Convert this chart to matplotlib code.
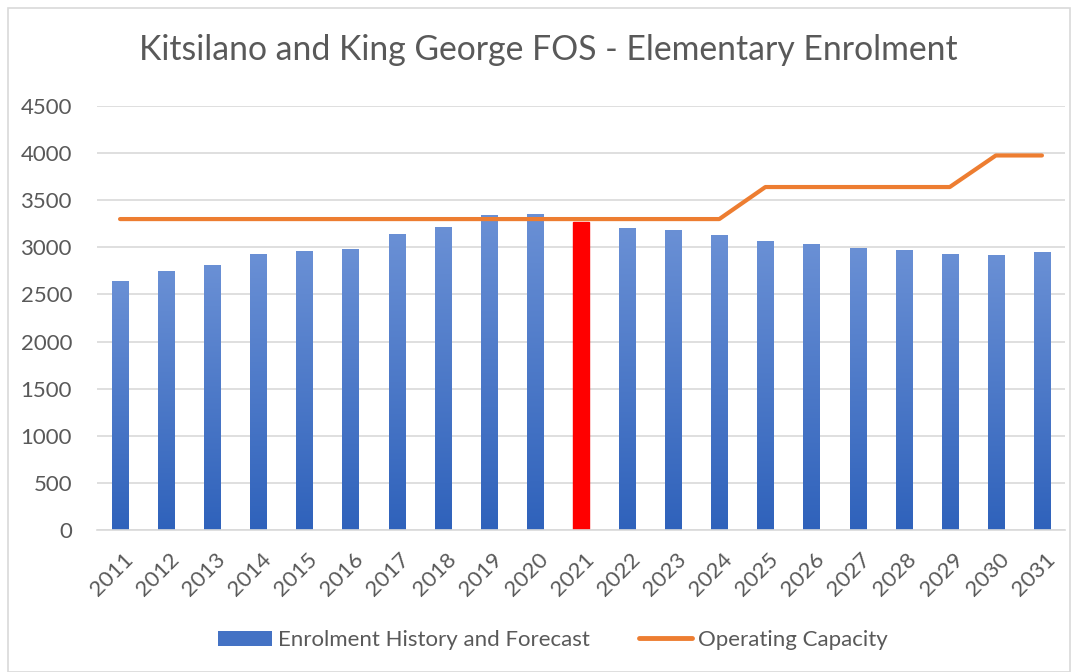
import matplotlib
matplotlib.use("Agg")
import matplotlib.pyplot as plt
import numpy as np
from matplotlib.patches import Patch, Rectangle
from matplotlib.lines import Line2D
from matplotlib.colors import LinearSegmentedColormap
import matplotlib.transforms as mtransforms

plt.rcParams['font.family'] = ['Lato', 'DejaVu Sans']

years = [str(y) for y in range(2011, 2032)]
enrolment = [2640, 2745, 2810, 2927, 2960, 2981, 3136, 3210, 3339, 3350,
             3268, 3200, 3178, 3125, 3061, 3029, 2986, 2965, 2922, 2911, 2943]
capacity = [3300, 3300, 3300, 3300, 3300, 3300, 3300, 3300, 3300, 3300,
            3300, 3300, 3300, 3300, 3640, 3640, 3640, 3640, 3640, 3975, 3975]
highlight_year = "2021"

title = "Kitsilano and King George FOS - Elementary Enrolment"
bar_label = "Enrolment History and Forecast"
line_label = "Operating Capacity"

W, H = 1077, 672
fig = plt.figure(figsize=(W / 100, H / 100), dpi=100)
ax = fig.add_axes([97 / W, 1 - 530 / H, (1065 - 97) / W, (530 - 106) / H])

x = np.arange(len(years))
bars = ax.bar(x, enrolment, width=0.35, color='#4472C4', zorder=2)

cmap = LinearSegmentedColormap.from_list('g', ['#2f62bb', '#6a90d5'])
grad = np.linspace(0, 1, 256).reshape(-1, 1)
for b, yr in zip(bars, years):
    if yr == highlight_year:
        b.set_color('#FF0000')
        continue
    b.set_facecolor('none')
    x0, w, h = b.get_x(), b.get_width(), b.get_height()
    ax.imshow(grad, cmap=cmap, origin='lower', aspect='auto',
              extent=(x0, x0 + w, 0, h), zorder=2, interpolation='bicubic')

ax.plot(x, capacity, color='#ED7D31', lw=3.0, solid_capstyle='round',
        solid_joinstyle='round', zorder=3)

ax.set_xlim(-0.5, len(years) - 0.5)
ax.set_ylim(0, 4500)
ax.set_yticks(np.arange(0, 4501, 500))
ax.yaxis.grid(True, color='#d9d9d9', lw=1.2, zorder=0)
ax.set_axisbelow(True)
for s in ['top', 'right', 'left']:
    ax.spines[s].set_visible(False)
ax.spines['bottom'].set_color('#d9d9d9')
ax.spines['bottom'].set_linewidth(1.2)
ax.tick_params(axis='both', length=0, colors='#595959', labelsize=16)
ax.tick_params(axis='y', pad=18)
ax.set_xticks(x)
ax.set_xticklabels(years, rotation=45, ha='right', rotation_mode='anchor')
off = mtransforms.ScaledTranslation(3 / 100, -14 / 100, fig.dpi_scale_trans)
for lab in ax.get_xticklabels():
    lab.set_transform(lab.get_transform() + off)

fig.text(548 / W, 1 - 50 / H, title, ha='center', va='center', fontsize=24.3, color='#595959')

handles = [Patch(facecolor='#4472C4', edgecolor='none'),
           Line2D([0], [0], color='#ED7D31', lw=3.5, solid_capstyle='round')]
fig.legend(handles, [bar_label, line_label], loc='center', bbox_to_anchor=(553 / W, 1 - 640 / H),
           ncol=2, frameon=False, fontsize=16, labelcolor='#595959',
           handlelength=2.4, handletextpad=0.27, columnspacing=2.2, handleheight=0.68)

fig.patches.append(Rectangle((8 / W, 0), (1070 - 8) / W, 1 - 8 / H, transform=fig.transFigure,
                             fill=False, edgecolor='#d9d9d9', lw=1.2))

fig.savefig('out.png', dpi=100)
